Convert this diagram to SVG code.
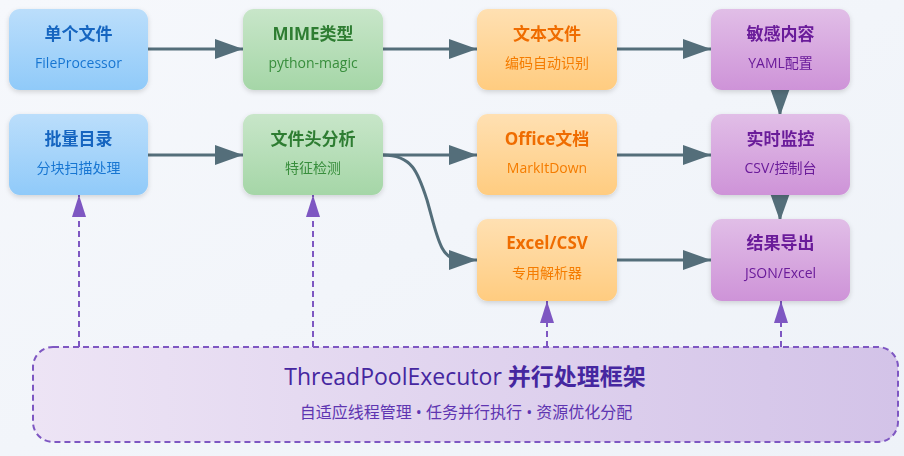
<svg xmlns="http://www.w3.org/2000/svg" width="904" height="456" viewBox="0 0 904 456">
<defs>
<linearGradient id="bg" x1="0" y1="0" x2="1" y2="1"><stop offset="0" stop-color="#f6f8fc"/><stop offset="1" stop-color="#eef2f8"/></linearGradient>
<linearGradient id="gBlue" x1="0" y1="0" x2="0" y2="1"><stop offset="0" stop-color="#bbdefb"/><stop offset="1" stop-color="#90caf9"/></linearGradient>
<linearGradient id="gGreen" x1="0" y1="0" x2="0" y2="1"><stop offset="0" stop-color="#c8e6c9"/><stop offset="1" stop-color="#a5d6a7"/></linearGradient>
<linearGradient id="gOrange" x1="0" y1="0" x2="0" y2="1"><stop offset="0" stop-color="#ffe0b2"/><stop offset="1" stop-color="#ffcc80"/></linearGradient>
<linearGradient id="gPurple" x1="0" y1="0" x2="0" y2="1"><stop offset="0" stop-color="#e1bee7"/><stop offset="1" stop-color="#ce93d8"/></linearGradient>
<linearGradient id="gPool" x1="0" y1="0" x2="1" y2="0"><stop offset="0" stop-color="#ede4f5"/><stop offset="1" stop-color="#d3c3e8"/></linearGradient>
<filter id="sh" x="-10%" y="-10%" width="130%" height="140%"><feDropShadow dx="0" dy="2" stdDeviation="2.5" flood-color="#000" flood-opacity="0.15"/></filter>
<marker id="ah" markerUnits="userSpaceOnUse" markerWidth="30" markerHeight="22" refX="28" refY="10" orient="auto"><path d="M0,0 L28,10 L0,20 z" fill="#546e7a"/></marker>
<marker id="ap" markerUnits="userSpaceOnUse" markerWidth="24" markerHeight="16" refX="22" refY="7" orient="auto"><path d="M0,0 L22,7 L0,14 z" fill="#7e57c2"/></marker>
<style>
.node{filter:url(#sh)}
.t{font-family:"Open Sans","Noto Sans CJK SC",sans-serif;font-size:17px;font-weight:bold;text-anchor:middle;dominant-baseline:central}
.s{font-family:"Open Sans","Noto Sans CJK SC",sans-serif;font-size:14px;text-anchor:middle;dominant-baseline:central}
.blue .t{fill:#1565c0}.blue .s{fill:#1976d2}
.green .t{fill:#2e7d32}.green .s{fill:#388e3c}
.orange .t{fill:#ef6c00}.orange .s{fill:#f57c00}
.purple .t{fill:#6a1b9a}.purple .s{fill:#6a1b9a}
.c{fill:none;stroke:#546e7a;stroke-width:3;marker-end:url(#ah)}
.d{fill:none;stroke:#7e57c2;stroke-width:2;stroke-dasharray:6,4;marker-end:url(#ap)}
</style>
</defs>
<rect width="904" height="456" fill="url(#bg)"/>

<g id="connectors">
<path class="c" d="M148,49 L243,49"/>
<path class="c" d="M383,49 L477,49"/>
<path class="c" d="M617,49 L711,49"/>
<path class="c" d="M148,155 L243,155"/>
<path class="c" d="M383,155 L477,155"/>
<path class="c" d="M617,155 L711,155"/>
<path class="c" d="M617,260 L711,260"/>
<path class="c" d="M383,155 C412,155 418,172 427,200 C437,235 440,260 460,260 L477,260"/>
<path class="c" d="M780,90 L780,116"/>
<path class="c" d="M780,195 L780,221"/>
<path class="d" d="M79,347 L79,195"/>
<path class="d" d="M313,347 L313,195"/>
<path class="d" d="M547,347 L547,301"/>
<path class="d" d="M781,347 L781,301"/>
</g>

<g id="n-single" class="node blue"><rect x="9" y="9" width="139" height="81" rx="11" fill="url(#gBlue)"/><text class="t" x="78.5" y="33">单个文件</text><text class="s" x="78.5" y="62">FileProcessor</text></g>
<g id="n-batch" class="node blue"><rect x="9" y="114" width="139" height="81" rx="11" fill="url(#gBlue)"/><text class="t" x="78.5" y="138">批量目录</text><text class="s" x="78.5" y="167">分块扫描处理</text></g>
<g id="n-mime" class="node green"><rect x="243" y="9" width="140" height="81" rx="11" fill="url(#gGreen)"/><text class="t" x="313" y="33">MIME类型</text><text class="s" x="313" y="62">python-magic</text></g>
<g id="n-header" class="node green"><rect x="243" y="114" width="140" height="81" rx="11" fill="url(#gGreen)"/><text class="t" x="313" y="138">文件头分析</text><text class="s" x="313" y="167">特征检测</text></g>
<g id="n-text" class="node orange"><rect x="477" y="9" width="140" height="81" rx="11" fill="url(#gOrange)"/><text class="t" x="547" y="33">文本文件</text><text class="s" x="547" y="62">编码自动识别</text></g>
<g id="n-office" class="node orange"><rect x="477" y="114" width="140" height="81" rx="11" fill="url(#gOrange)"/><text class="t" x="547" y="138">Office文档</text><text class="s" x="547" y="167">MarkItDown</text></g>
<g id="n-excel" class="node orange"><rect x="477" y="219" width="140" height="82" rx="11" fill="url(#gOrange)"/><text class="t" x="547" y="242">Excel/CSV</text><text class="s" x="547" y="272">专用解析器</text></g>
<g id="n-sensitive" class="node purple"><rect x="711" y="9" width="139" height="81" rx="11" fill="url(#gPurple)"/><text class="t" x="780.5" y="33">敏感内容</text><text class="s" x="780.5" y="62">YAML配置</text></g>
<g id="n-monitor" class="node purple"><rect x="711" y="114" width="139" height="81" rx="11" fill="url(#gPurple)"/><text class="t" x="780.5" y="138">实时监控</text><text class="s" x="780.5" y="167">CSV/控制台</text></g>
<g id="n-export" class="node purple"><rect x="711" y="219" width="139" height="82" rx="11" fill="url(#gPurple)"/><text class="t" x="780.5" y="242">结果导出</text><text class="s" x="780.5" y="272">JSON/Excel</text></g>

<g id="n-pool"><rect x="33" y="347" width="865" height="95" rx="20" fill="url(#gPool)" stroke="#7e57c2" stroke-width="2" stroke-dasharray="6,4"/>
<text x="465" y="376" font-family="'Open Sans','Noto Sans CJK SC',sans-serif" font-size="23" fill="#4527a0" text-anchor="middle" dominant-baseline="central">ThreadPoolExecutor <tspan font-weight="bold">并行处理框架</tspan></text>
<text x="466" y="412" font-family="'Open Sans','Noto Sans CJK SC',sans-serif" font-size="16" fill="#5e35b1" text-anchor="middle" dominant-baseline="central">自适应线程管理 • 任务并行执行 • 资源优化分配</text></g>
</svg>
